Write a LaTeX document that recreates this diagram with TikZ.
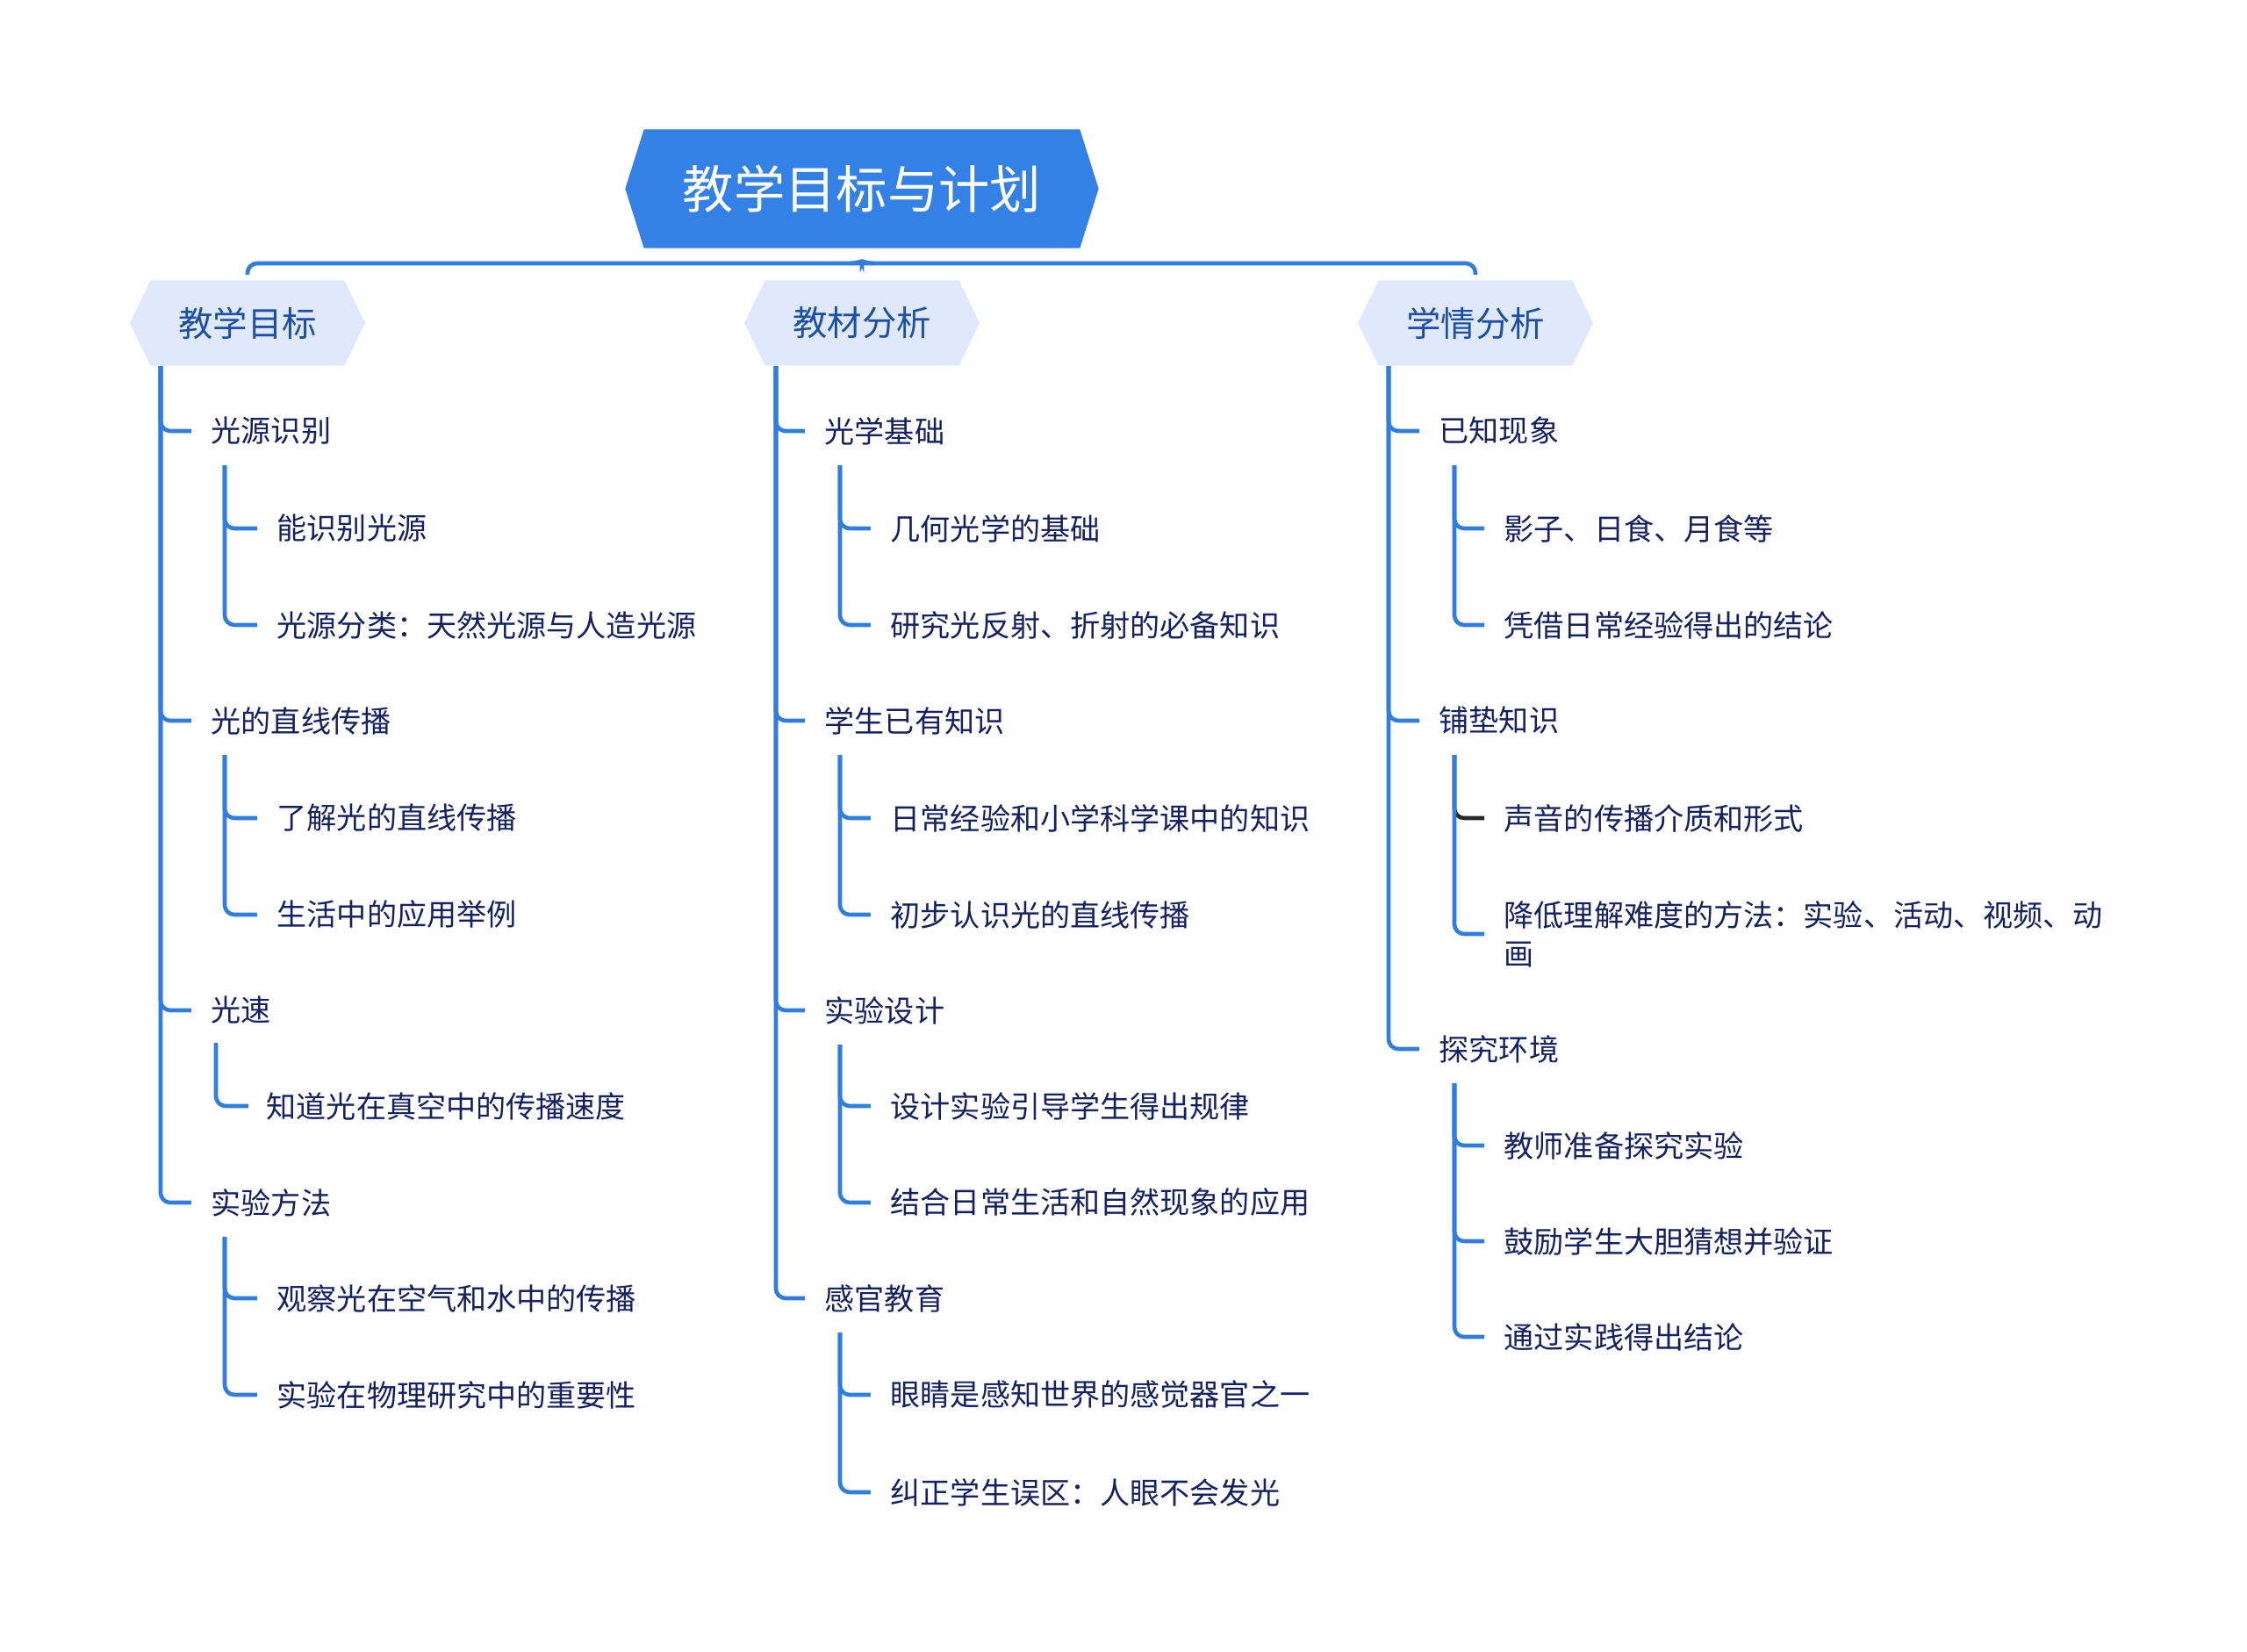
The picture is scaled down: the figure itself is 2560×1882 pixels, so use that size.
\documentclass[tikz,border=0pt]{standalone}
\usepackage{fontspec}
\setmainfont{Noto Sans CJK SC}
\usepackage{xcolor}
\usepackage{tikz}
\usetikzlibrary{shapes.symbols,calc}

\definecolor{mainblue}{RGB}{51,128,230}
\definecolor{linecol}{RGB}{47,125,225}
\definecolor{topicfill}{RGB}{224,233,251}
\definecolor{topictext}{RGB}{27,79,168}
\definecolor{itemtext}{RGB}{20,33,100}
\definecolor{darkline}{RGB}{40,40,40}

\begin{document}
\begin{tikzpicture}[
    x=0.01cm, y=-0.01cm,
    root/.style={signal, signal to=west and east, signal pointer angle=145, fill=mainblue, text=white, minimum width=5.39cm, minimum height=1.35cm, inner sep=0pt, font=\fontsize{16.6}{20}\selectfont},
    topic/.style={signal, signal to=west and east, signal pointer angle=128, fill=topicfill, text=topictext, minimum width=2.68cm, minimum height=0.97cm, inner sep=0pt, font=\fontsize{11.2}{14}\selectfont},
    item/.style={anchor=west, inner sep=0pt, text=itemtext, align=left, font=\fontsize{9.7}{12.6}\selectfont},
    branch/.style={draw=linecol, line width=1.3pt, rounded corners=0.11cm}
]

    \fill[white] (0,0) rectangle (2560,1882);

    % Root and the three topics
    \node [root] (root) at (982,215) {教学目标与计划};
    \node [topic] (goal) at (282,368) {教学目标};
    \node [topic] (mat) at (982,368) {教材分析};
    \node [topic] (stud) at (1681,368) {学情分析};

    \coordinate (bar) at (982,300);
    \draw [branch] ([yshift=0.06cm]goal.north) |- (bar) -| ([yshift=0.06cm]stud.north);
    \draw [branch] ($(bar)+(-14,0)$) .. controls ($(bar)+(-4,0)$) and ($(bar)+(0,-4)$) .. ($(bar)+(0,-11)$) .. controls ($(bar)+(0,-4)$) and ($(bar)+(4,0)$) .. ($(bar)+(14,0)$);

    % Teaching goals (left)
    \node [item] (g1) at (240,491) {光源识别};
    \node [item] (g11) at (315,602) {能识别光源};
    \node [item] (g12) at (315,712) {光源分类：天然光源与人造光源};
    \node [item] (g2) at (240,821) {光的直线传播};
    \node [item] (g21) at (315,932) {了解光的直线传播};
    \node [item] (g22) at (315,1042) {生活中的应用举例};
    \node [item] (g3) at (240,1151) {光速};
    \node [item] (g31) at (303,1260) {知道光在真空中的传播速度};
    \node [item] (g4) at (240,1370) {实验方法};
    \node [item] (g41) at (315,1479) {观察光在空气和水中的传播};
    \node [item] (g42) at (315,1589) {实验在物理研究中的重要性};

    \coordinate (gt) at (183,417);
    \draw [branch] (gt) |- ([xshift=-0.22cm]g1.west);
    \draw [branch] (gt) |- ([xshift=-0.22cm]g2.west);
    \draw [branch] (gt) |- ([xshift=-0.22cm]g3.west);
    \draw [branch] (gt) |- ([xshift=-0.22cm]g4.west);

    \draw [branch] ($(g1.west)+(16,39)$) |- ([xshift=-0.22cm]g11.west);
    \draw [branch] ($(g1.west)+(16,39)$) |- ([xshift=-0.22cm]g12.west);
    \draw [branch] ($(g2.west)+(16,39)$) |- ([xshift=-0.22cm]g21.west);
    \draw [branch] ($(g2.west)+(16,39)$) |- ([xshift=-0.22cm]g22.west);
    \draw [branch] ($(g3.west)+(6,37)$) |- ([xshift=-0.2cm]g31.west);
    \draw [branch] ($(g4.west)+(16,39)$) |- ([xshift=-0.22cm]g41.west);
    \draw [branch] ($(g4.west)+(16,39)$) |- ([xshift=-0.22cm]g42.west);

    % Material analysis (middle)
    \node [item] (m1) at (939,491) {光学基础};
    \node [item] (m11) at (1014,602) {几何光学的基础};
    \node [item] (m12) at (1014,712) {研究光反射、折射的必备知识};
    \node [item] (m2) at (939,821) {学生已有知识};
    \node [item] (m21) at (1014,932) {日常经验和小学科学课中的知识};
    \node [item] (m22) at (1014,1042) {初步认识光的直线传播};
    \node [item] (m3) at (939,1151) {实验设计};
    \node [item] (m31) at (1014,1260) {设计实验引导学生得出规律};
    \node [item] (m32) at (1014,1370) {结合日常生活和自然现象的应用};
    \node [item] (m4) at (939,1479) {感官教育};
    \node [item] (m41) at (1014,1589) {眼睛是感知世界的感觉器官之一};
    \node [item] (m42) at (1014,1700) {纠正学生误区：人眼不会发光};

    \coordinate (mt) at (884,417);
    \draw [branch] (mt) |- ([xshift=-0.22cm]m1.west);
    \draw [branch] (mt) |- ([xshift=-0.22cm]m2.west);
    \draw [branch] (mt) |- ([xshift=-0.22cm]m3.west);
    \draw [branch] (mt) |- ([xshift=-0.22cm]m4.west);

    \draw [branch] ($(m1.west)+(18,39)$) |- ([xshift=-0.22cm]m11.west);
    \draw [branch] ($(m1.west)+(18,39)$) |- ([xshift=-0.22cm]m12.west);
    \draw [branch] ($(m2.west)+(18,39)$) |- ([xshift=-0.22cm]m21.west);
    \draw [branch] ($(m2.west)+(18,39)$) |- ([xshift=-0.22cm]m22.west);
    \draw [branch] ($(m3.west)+(18,39)$) |- ([xshift=-0.22cm]m31.west);
    \draw [branch] ($(m3.west)+(18,39)$) |- ([xshift=-0.22cm]m32.west);
    \draw [branch] ($(m4.west)+(18,39)$) |- ([xshift=-0.22cm]m41.west);
    \draw [branch] ($(m4.west)+(18,39)$) |- ([xshift=-0.22cm]m42.west);

    % Student analysis (right)
    \node [item] (s1) at (1639,491) {已知现象};
    \node [item] (s11) at (1713,602) {影子、日食、月食等};
    \node [item] (s12) at (1713,712) {凭借日常经验得出的结论};
    \node [item] (s2) at (1639,821) {铺垫知识};
    \node [item] (s21) at (1713,932) {声音的传播介质和形式};
    \node [item] (s22) at (1713,1064) {降低理解难度的方法：实验、活动、视频、动\\画};
    \node [item] (s3) at (1639,1195) {探究环境};
    \node [item] (s31) at (1713,1305) {教师准备探究实验};
    \node [item] (s32) at (1713,1414) {鼓励学生大胆猜想并验证};
    \node [item] (s33) at (1713,1523) {通过实践得出结论};

    \coordinate (st) at (1582,417);
    \draw [branch] (st) |- ([xshift=-0.22cm]s1.west);
    \draw [branch] (st) |- ([xshift=-0.22cm]s2.west);
    \draw [branch] (st) |- ([xshift=-0.22cm]s3.west);

    \draw [branch] ($(s1.west)+(18,39)$) |- ([xshift=-0.22cm]s11.west);
    \draw [branch] ($(s1.west)+(18,39)$) |- ([xshift=-0.22cm]s12.west);
    \draw [branch, draw=darkline] ($(s2.west)+(18,39)$) |- ([xshift=-0.22cm]s21.west);
    \draw [branch] ($(s2.west)+(18,39)$) |- ([xshift=-0.22cm]s22.west);
    \draw [branch] ($(s3.west)+(18,39)$) |- ([xshift=-0.22cm]s31.west);
    \draw [branch] ($(s3.west)+(18,39)$) |- ([xshift=-0.22cm]s32.west);
    \draw [branch] ($(s3.west)+(18,39)$) |- ([xshift=-0.22cm]s33.west);

\end{tikzpicture}
\end{document}
